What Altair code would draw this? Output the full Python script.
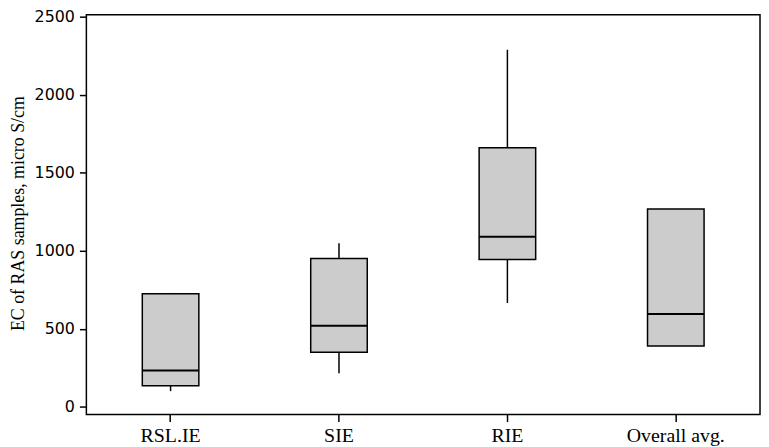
import altair as alt
import pandas as pd

groups = ["RSL.IE", "SIE", "RIE", "Overall avg."]
mins = [100, 215, 665, 390]
q1 = [135, 350, 945, 390]
median = [232, 520, 1090, 595]
q3 = [724, 951, 1661, 1269]
maxs = [730, 1049, 2290, 1269]

df = pd.DataFrame({"group": groups, "min": mins, "q1": q1, "median": median, "q3": q3, "max": maxs})

xenc = alt.X("group:N", sort=groups, title=None,
             scale=alt.Scale(paddingInner=0, paddingOuter=0),
             axis=alt.Axis(labelAngle=0, labelFont="Liberation Serif", labelFontSize=20,
                           labelColor="black", tickColor="black", tickSize=7, tickWidth=1.5,
                           domain=False, labelPadding=4))
yscale = alt.Scale(domain=[-50, 2515], nice=False, zero=False)
yaxis = alt.Axis(values=[0, 500, 1000, 1500, 2000, 2500], grid=False, domain=False, format="d",
                 labelFont="DejaVu Sans", labelFontSize=16, labelColor="black",
                 tickColor="black", tickSize=7, tickWidth=1.5, labelPadding=5,
                 title="EC of RAS samples, micro S/cm", titleFont="Liberation Serif",
                 titleFontSize=18, titleFontWeight="normal", titleColor="black",
                 titleX=-68, titleY=200, titleAngle=270, titleAlign="center",
                 titleBaseline="middle")

base = alt.Chart(df)
whisk = base.mark_rule(color="black", strokeWidth=1.5).encode(
    x=xenc, y=alt.Y("min:Q", scale=yscale, axis=yaxis), y2="max:Q")
box = base.mark_bar(size=57, fill="#cccccc", stroke="black", strokeWidth=1.5).encode(
    x=xenc, y=alt.Y("q1:Q", scale=yscale, axis=yaxis), y2="q3:Q")
med = base.mark_tick(size=57, thickness=2, color="black", opacity=1, orient="horizontal").encode(
    x=xenc, y=alt.Y("median:Q", scale=yscale, axis=yaxis))

chart = alt.layer(whisk, box, med).properties(
    width=679, height=403,
    autosize=alt.AutoSizeParams(type="none"),
    padding={"left": 79, "top": 5, "right": 1, "bottom": 30},
).configure(background="white").configure_view(stroke="black", strokeWidth=1.5)

chart.save("out.html", embed_options={"renderer": "svg", "actions": False})
